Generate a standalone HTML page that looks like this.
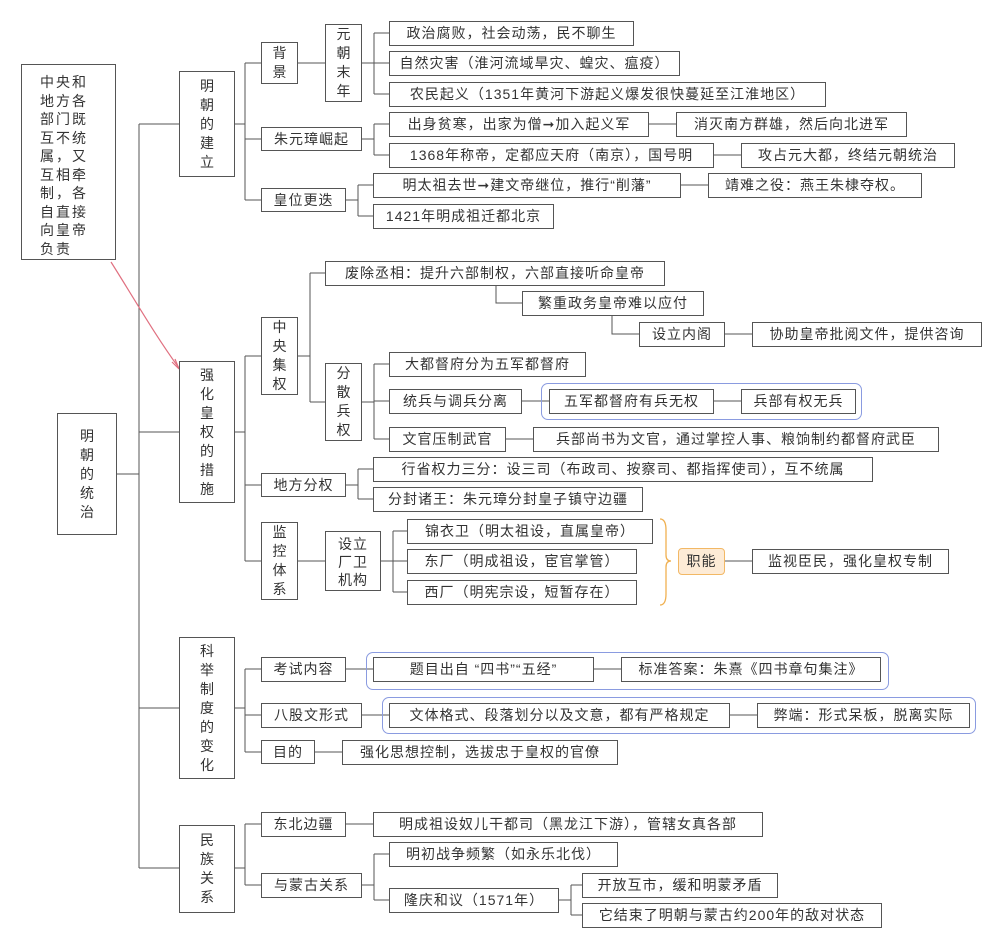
<!DOCTYPE html>
<html><head><meta charset="utf-8"><style>
body{margin:0;background:#fff;width:1002px;height:948px;position:relative;overflow:hidden;font-family:"Liberation Sans","Noto Sans CJK SC",sans-serif;color:#333;}
.b{position:absolute;border:1px solid #555;background:#fff;box-sizing:border-box;font-size:14px;line-height:23px;text-align:center;white-space:nowrap;letter-spacing:1px}
.v{line-height:19px;display:flex;align-items:center;justify-content:center;white-space:normal;padding:0;letter-spacing:0}
.v span{display:block;width:15px;text-align:center}
.g{position:absolute;border:1px solid #8a9be0;border-radius:7px;box-sizing:border-box}
svg{position:absolute;left:0;top:0}
</style></head><body>
<svg width="1002" height="948" fill="none" stroke="#555" stroke-width="1">
<path d="M117 474H139M139 124V868M139 124H179M139 432H179M139 708H179M139 868H179"/>
<path d="M235 124H245M245 63V200M245 63H261M245 139H261M245 200H261"/>
<path d="M298 63H325M362 63H374M374 33V94M374 33H389M374 63H389M374 94H389"/>
<path d="M362 139H374M374 124V155M374 124H389M374 155H389M649 124H676M714 155H741"/>
<path d="M346 200H358M358 185V216M358 185H373M358 216H373M681 185H708"/>
<path d="M235 432H245M245 356V561M245 356H261M245 485H261M245 561H261"/>
<path d="M298 356H310M310 273V402M310 273H325M310 402H325"/>
<path d="M496 286V303H522M612 316V334H639M725 334H752"/>
<path d="M362 402H374M374 364V439M374 364H389M374 401H389M374 439H389M522 401H549M714 401H741M506 439H533"/>
<path d="M346 485H358M358 469V499M358 469H373M358 499H373"/>
<path d="M298 561H325M381 561H393M393 531V592M393 531H407M393 561H407M393 592H407M725 561H752"/>
<path d="M235 708H245M245 669V752M245 669H261M245 715H261M245 752H261M346 669H373M594 669H621M362 715H389M730 715H757M315 752H342"/>
<path d="M235 868H245M245 824V885M245 824H261M245 885H261M346 824H373"/>
<path d="M362 885H374M374 854V900M374 854H389M374 900H389M559 900H571M571 885V915M571 885H582M571 915H582"/>
<path d="M660 519Q666 519 666 530V555Q666 561 671 561Q666 561 666 567V594Q666 605 660 605" stroke="#f0b050" stroke-width="1.3"/>
<path d="M111 262C135 300 155 335 179 368" stroke="#e07080" stroke-width="1.2"/>
<path d="M172 362L179 369L175 359" stroke="#e07080" stroke-width="1.2"/>
</svg>
<div class="g" style="left:541px;top:383px;width:321px;height:37px"></div>
<div class="g" style="left:366px;top:652px;width:523px;height:38px"></div>
<div class="g" style="left:382px;top:697px;width:594px;height:37px"></div>

<div class="b" style="left:21px;top:64px;width:95px;height:196px;padding:8px 18px;text-align:left;letter-spacing:2px;white-space:normal;line-height:18.5px">中央和地方各部门既互不统属，又互相牵制，各自直接向皇帝负责</div>
<div class="b v" style="left:57px;top:413px;width:60px;height:122px"><span>明朝的统治</span></div>
<div class="b v" style="left:179px;top:71px;width:56px;height:106px"><span>明朝的建立</span></div>
<div class="b v" style="left:261px;top:42px;width:37px;height:42px"><span>背景</span></div>
<div class="b v" style="left:325px;top:24px;width:37px;height:78px"><span>元朝末年</span></div>
<div class="b" style="left:389px;top:21px;width:245px;height:25px">政治腐败，社会动荡，民不聊生</div>
<div class="b" style="left:389px;top:51px;width:291px;height:25px">自然灾害（淮河流域旱灾、蝗灾、瘟疫）</div>
<div class="b" style="left:389px;top:82px;width:437px;height:25px">农民起义（1351年黄河下游起义爆发很快蔓延至江淮地区）</div>
<div class="b" style="left:261px;top:127px;width:101px;height:24px">朱元璋崛起</div>
<div class="b" style="left:389px;top:112px;width:260px;height:25px">出身贫寒，出家为僧➞加入起义军</div>
<div class="b" style="left:676px;top:112px;width:231px;height:25px">消灭南方群雄，然后向北进军</div>
<div class="b" style="left:389px;top:143px;width:325px;height:25px">1368年称帝，定都应天府（南京），国号明</div>
<div class="b" style="left:741px;top:143px;width:214px;height:25px">攻占元大都，终结元朝统治</div>
<div class="b" style="left:261px;top:188px;width:85px;height:24px">皇位更迭</div>
<div class="b" style="left:373px;top:173px;width:308px;height:25px">明太祖去世➞建文帝继位，推行“削藩”</div>
<div class="b" style="left:708px;top:173px;width:214px;height:25px">靖难之役：燕王朱棣夺权。</div>
<div class="b" style="left:373px;top:204px;width:181px;height:25px">1421年明成祖迁都北京</div>

<div class="b v" style="left:179px;top:361px;width:56px;height:142px"><span>强化皇权的措施</span></div>
<div class="b" style="left:325px;top:261px;width:340px;height:25px">废除丞相：提升六部制权，六部直接听命皇帝</div>
<div class="b" style="left:522px;top:291px;width:182px;height:25px">繁重政务皇帝难以应付</div>
<div class="b" style="left:639px;top:322px;width:86px;height:25px">设立内阁</div>
<div class="b" style="left:752px;top:322px;width:230px;height:25px">协助皇帝批阅文件，提供咨询</div>
<div class="b v" style="left:261px;top:317px;width:37px;height:78px"><span>中央集权</span></div>
<div class="b v" style="left:325px;top:363px;width:37px;height:78px"><span>分散兵权</span></div>
<div class="b" style="left:389px;top:352px;width:197px;height:25px">大都督府分为五军都督府</div>
<div class="b" style="left:389px;top:389px;width:133px;height:25px">统兵与调兵分离</div>
<div class="b" style="left:549px;top:389px;width:165px;height:25px">五军都督府有兵无权</div>
<div class="b" style="left:741px;top:389px;width:115px;height:25px">兵部有权无兵</div>
<div class="b" style="left:389px;top:427px;width:117px;height:25px">文官压制武官</div>
<div class="b" style="left:533px;top:427px;width:406px;height:25px">兵部尚书为文官，通过掌控人事、粮饷制约都督府武臣</div>
<div class="b" style="left:261px;top:473px;width:85px;height:24px">地方分权</div>
<div class="b" style="left:373px;top:457px;width:500px;height:25px">行省权力三分：设三司（布政司、按察司、都指挥使司），互不统属</div>
<div class="b" style="left:373px;top:487px;width:270px;height:25px">分封诸王：朱元璋分封皇子镇守边疆</div>
<div class="b v" style="left:261px;top:522px;width:37px;height:78px"><span>监控体系</span></div>
<div class="b" style="left:325px;top:531px;width:56px;height:60px;white-space:normal;line-height:18px;padding:3px 10px;letter-spacing:1px">设立厂卫机构</div>
<div class="b" style="left:407px;top:519px;width:246px;height:25px">锦衣卫（明太祖设，直属皇帝）</div>
<div class="b" style="left:407px;top:549px;width:230px;height:25px">东厂（明成祖设，宦官掌管）</div>
<div class="b" style="left:407px;top:580px;width:230px;height:25px">西厂（明宪宗设，短暂存在）</div>
<div class="b" style="left:678px;top:548px;width:47px;height:27px;background:#fdebd6;border-color:#f2b865;border-radius:4px;line-height:25px">职能</div>
<div class="b" style="left:752px;top:549px;width:197px;height:25px">监视臣民，强化皇权专制</div>

<div class="b v" style="left:179px;top:637px;width:56px;height:142px"><span>科举制度的变化</span></div>
<div class="b" style="left:261px;top:657px;width:85px;height:25px">考试内容</div>
<div class="b" style="left:373px;top:657px;width:221px;height:25px">题目出自 “四书”“五经”</div>
<div class="b" style="left:621px;top:657px;width:260px;height:25px">标准答案：朱熹《四书章句集注》</div>
<div class="b" style="left:261px;top:703px;width:101px;height:25px">八股文形式</div>
<div class="b" style="left:389px;top:703px;width:341px;height:25px">文体格式、段落划分以及文意，都有严格规定</div>
<div class="b" style="left:757px;top:703px;width:213px;height:25px">弊端：形式呆板，脱离实际</div>
<div class="b" style="left:261px;top:740px;width:54px;height:24px">目的</div>
<div class="b" style="left:342px;top:740px;width:276px;height:25px">强化思想控制，选拔忠于皇权的官僚</div>

<div class="b v" style="left:179px;top:825px;width:56px;height:88px"><span>民族关系</span></div>
<div class="b" style="left:261px;top:812px;width:85px;height:25px">东北边疆</div>
<div class="b" style="left:373px;top:812px;width:390px;height:25px">明成祖设奴儿干都司（黑龙江下游），管辖女真各部</div>
<div class="b" style="left:261px;top:873px;width:101px;height:25px">与蒙古关系</div>
<div class="b" style="left:389px;top:842px;width:229px;height:25px">明初战争频繁（如永乐北伐）</div>
<div class="b" style="left:389px;top:888px;width:170px;height:25px">隆庆和议（1571年）</div>
<div class="b" style="left:582px;top:873px;width:196px;height:25px">开放互市，缓和明蒙矛盾</div>
<div class="b" style="left:582px;top:903px;width:300px;height:25px">它结束了明朝与蒙古约200年的敌对状态</div>
</body></html>
